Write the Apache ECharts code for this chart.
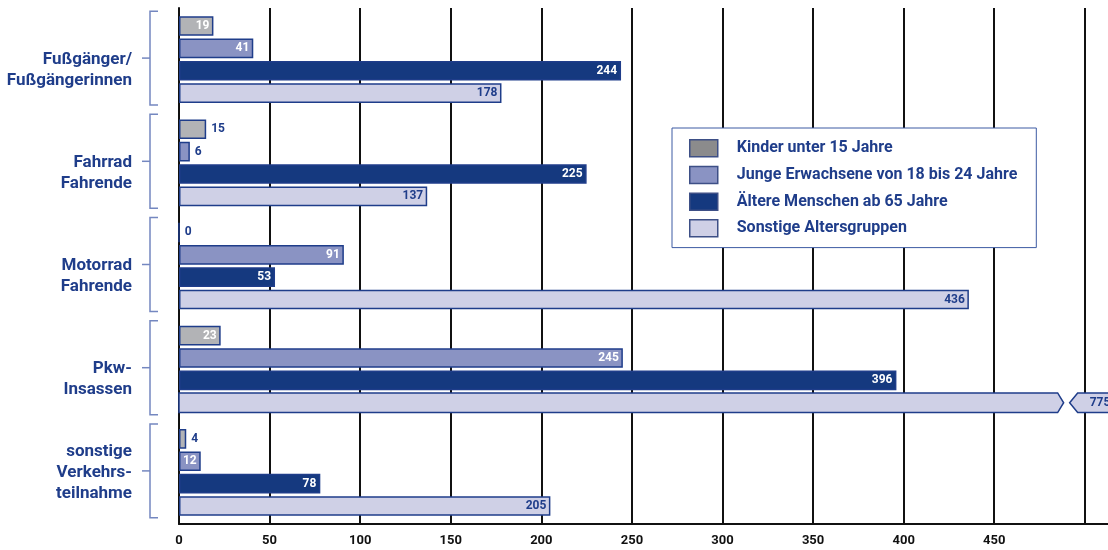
<!DOCTYPE html>
<html><head><meta charset="utf-8">
<script src="https://cdn.jsdelivr.net/npm/echarts@6/dist/echarts.min.js"></script>
<style>html,body{margin:0;padding:0;background:#fff}#c{width:1108px;height:550px}</style>
</head><body><div id="c"></div>
<script>
// ---- data ----
const categories = ['Fußgänger/\nFußgängerinnen', 'Fahrrad\nFahrende', 'Motorrad\nFahrende', 'Pkw-\nInsassen', 'sonstige\nVerkehrs-\nteilnahme'];
const seriesNames = ['Kinder unter 15 Jahre', 'Junge Erwachsene von 18 bis 24 Jahre', 'Ältere Menschen ab 65 Jahre', 'Sonstige Altersgruppen'];
const kinder   = [19, 15, 0, 23, 4];
const junge    = [41, 6, 91, 245, 12];
const aeltere  = [244, 225, 53, 396, 78];
const sonstige = [178, 137, 436, 775, 205];
const xTicks = [0, 50, 100, 150, 200, 250, 300, 350, 400, 450];
const AXIS_CUT = 485; // bars above this value are drawn broken

// ---- style ----
const FONT = 'Roboto, "DejaVu Sans", sans-serif';
const BLUE = '#1f3d8a';
const BRACKET = '#7487c0';
const FILLS = ['#b2b3b6', '#8a93c3', '#15397f', '#cfd0e6'];
const LEGEND_FILLS = ['#8b8b8c', '#8a93c3', '#15397f', '#cfd0e6'];
const LABEL_COLORS = ['#fff', '#fff', '#fff', BLUE];
const OUTSIDE = [[1, 2, 4], [1], [], []];
const CAT_GAP = 0.16, BAR_GAP = 0.14;

function barSeries(k, values) {
  return {
    name: seriesNames[k], type: 'bar',
    barGap: (BAR_GAP * 100) + '%', barCategoryGap: (CAT_GAP * 100) + '%',
    itemStyle: { color: FILLS[k], borderColor: BLUE, borderWidth: 1.5 },
    label: { show: true, position: 'insideRight', distance: 4, color: LABEL_COLORS[k],
             fontFamily: FONT, fontWeight: 'bold', fontSize: 12 },
    data: values.map((v, i) => {
      if (v > AXIS_CUT) return '-';
      if (OUTSIDE[k].includes(i)) return { value: v, label: { position: 'right', distance: 5, color: BLUE } };
      return v;
    })
  };
}

const chart = echarts.init(document.getElementById('c'));
chart.setOption({
  animation: false,
  grid: { left: 179, right: -4, top: 8, bottom: 26, containLabel: false, outerBoundsMode: 'none' },
  xAxis: {
    type: 'value', min: 0, max: 515, interval: 50,
    axisLine: { show: true, lineStyle: { color: '#111', width: 2 } },
    axisTick: { show: false },
    splitLine: { show: true, lineStyle: { color: '#111', width: 2 } },
    axisLabel: { color: '#111', fontFamily: FONT, fontWeight: 'bold', fontSize: 13, margin: 10,
                 formatter: v => xTicks.includes(v) ? String(v) : '' }
  },
  yAxis: {
    type: 'category', inverse: true, data: categories,
    axisLine: { show: true, lineStyle: { color: '#111', width: 2 } },
    axisTick: { show: false },
    axisLabel: { color: BLUE, fontFamily: FONT, fontWeight: 'bold', fontSize: 17, lineHeight: 21,
                 margin: 47, align: 'right',
                 formatter: v => v.split('\n').length === 2 ? ' \n' + v : v }
  },
  legend: {
    orient: 'vertical', left: 672, top: 128, icon: 'rect',
    itemWidth: 28, itemHeight: 17, itemGap: 8.2,
    padding: [11, 19, 10, 17],
    backgroundColor: '#fff', borderColor: '#3d5ba3', borderWidth: 1,
    textStyle: { color: BLUE, fontFamily: FONT, fontWeight: 'bold', fontSize: 16, padding: [0, 0, 0, 14] },
    data: seriesNames.map((n, k) => ({ name: n, itemStyle: { color: LEGEND_FILLS[k], borderColor: '#3d4f86', borderWidth: 1.5 } }))
  },
  series: [
    barSeries(0, kinder),
    barSeries(1, junge),
    barSeries(2, aeltere),
    barSeries(3, sonstige),
    {
      type: 'custom', name: 'broken', silent: true, z: 3,
      data: sonstige.map((v, i) => [v, i]).filter(d => d[0] > AXIS_CUT),
      encode: { x: 0, y: 1 },
      renderItem(params, api) {
        const v = api.value(0), ci = api.value(1);
        const band = api.size([0, 1])[1];
        const usable = band * (1 - CAT_GAP);
        const w = usable / (4 + 3 * BAR_GAP);
        const c = api.coord([0, ci]);
        const yTop = c[1] - usable / 2 + 3 * w * (1 + BAR_GAP);
        const yBot = yTop + w, ym = yTop + w / 2;
        const x0 = c[0];
        const xc = api.coord([AXIS_CUT, ci])[0];
        const xt = xc + 6, xbt = xt + 6, xbs = xbt + 8, xe = xbs + 80;
        return { type: 'group', children: [
          { type: 'polygon', shape: { points: [[x0, yTop], [xc, yTop], [xt, ym], [xc, yBot], [x0, yBot]] },
            style: { fill: FILLS[3], stroke: BLUE, lineWidth: 1.5 } },
          { type: 'polygon', shape: { points: [[xbt, ym], [xbs, yTop], [xe, yTop], [xe, yBot], [xbs, yBot]] },
            style: { fill: FILLS[3], stroke: BLUE, lineWidth: 1.5 } },
          { type: 'text', style: { text: String(v), x: xbs + 12, y: ym, align: 'left', verticalAlign: 'middle',
            fill: BLUE, font: 'bold 12px ' + FONT } }
        ] };
      }
    },
    {
      type: 'custom', name: 'brackets', silent: true, clip: false,
      data: categories.map((c, i) => [0, i]),
      encode: { x: 0, y: 1 },
      renderItem(params, api) {
        const ci = api.value(1);
        const p = api.coord([0, ci]);
        const band = api.size([0, 1])[1];
        const h = band * 0.455, yc = p[1] - 1.5, xv = p[0] - 29;
        return { type: 'group', children: [
          { type: 'polyline', shape: { points: [[xv + 8, yc - h], [xv, yc - h], [xv, yc + h], [xv + 8, yc + h]] },
            style: { stroke: BRACKET, lineWidth: 1.5, fill: null } },
          { type: 'line', shape: { x1: xv - 8, y1: yc, x2: xv, y2: yc }, style: { stroke: BRACKET, lineWidth: 1.5 } }
        ] };
      }
    }
  ]
});
</script>
</body></html>
